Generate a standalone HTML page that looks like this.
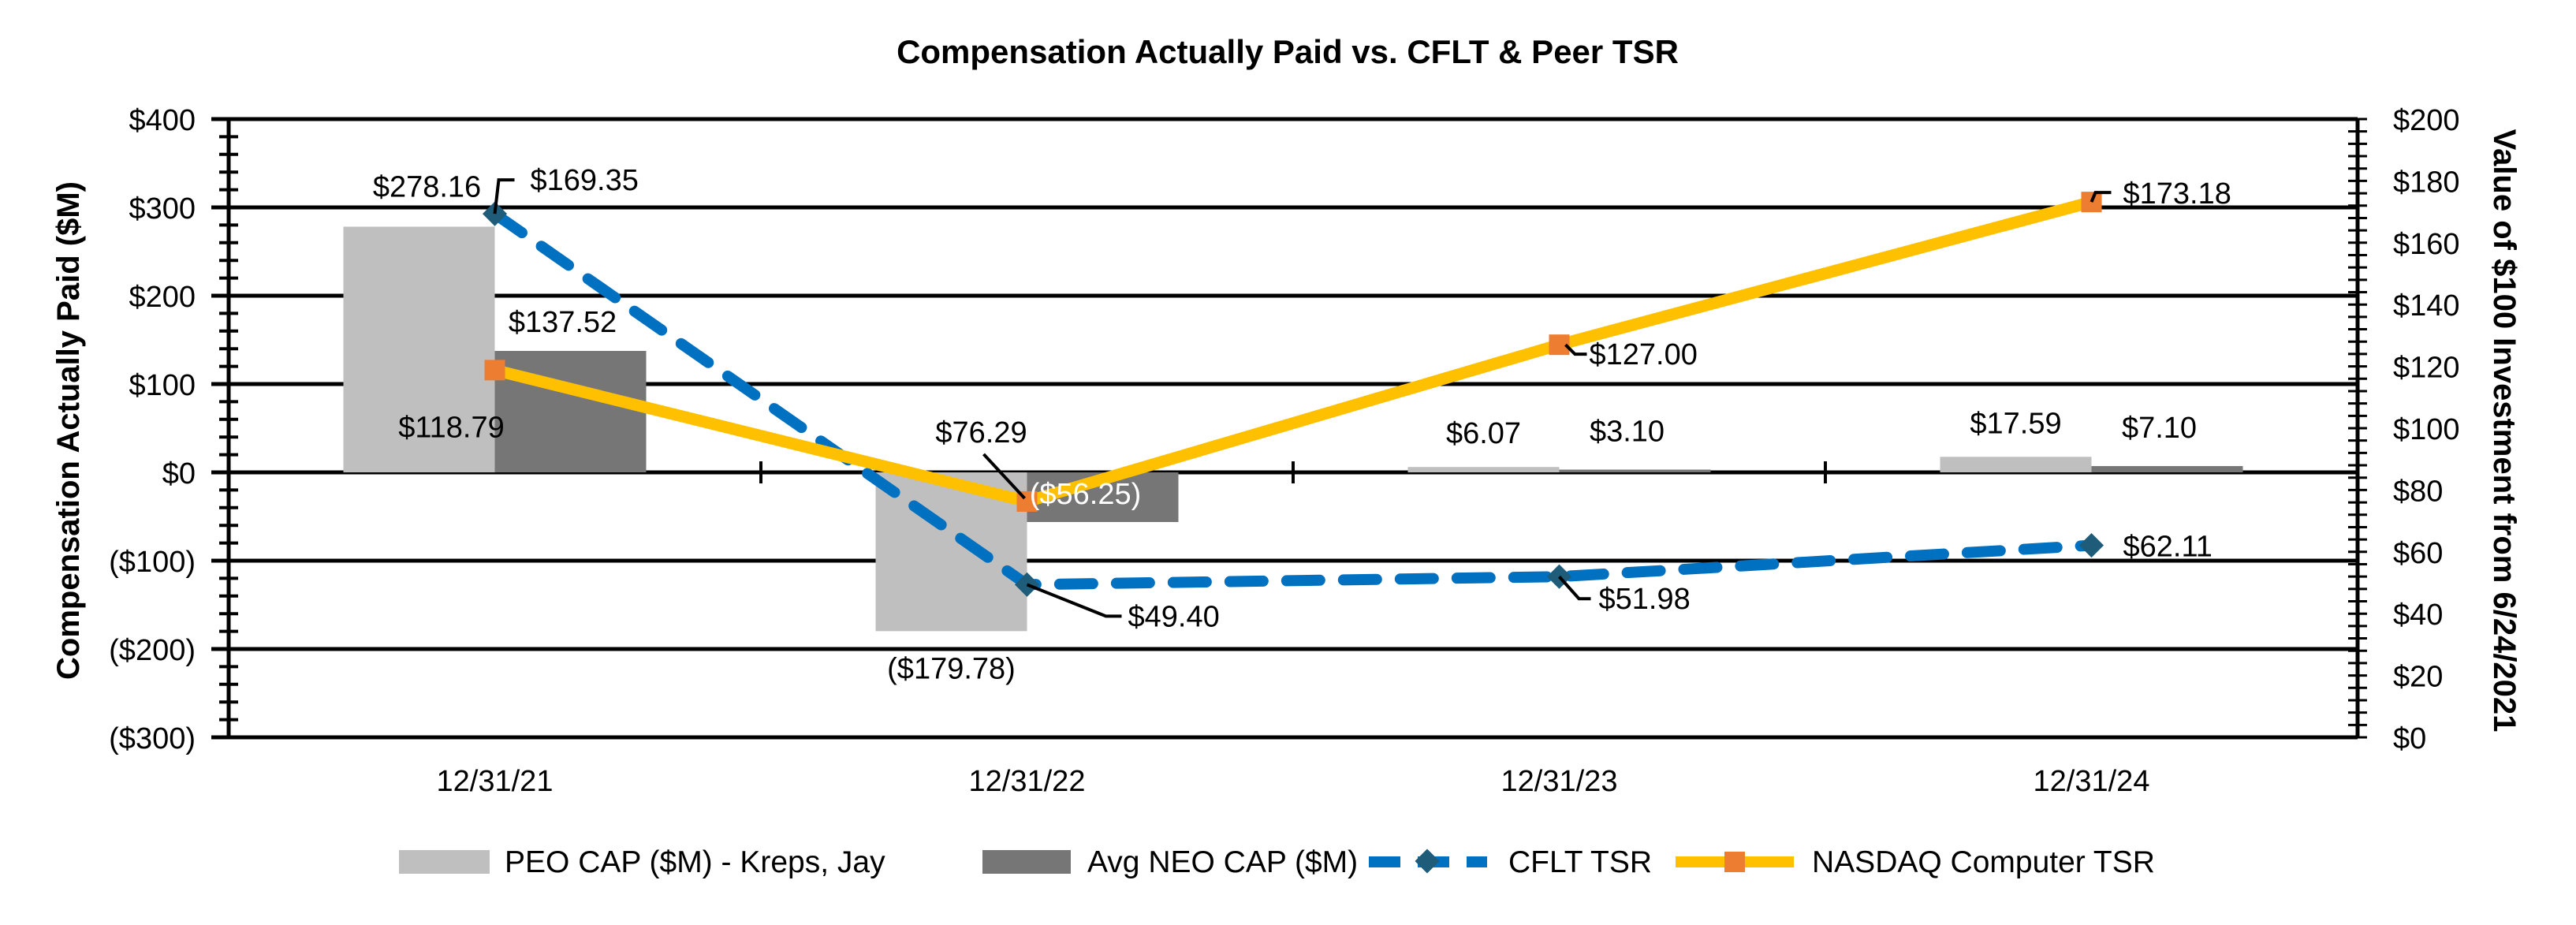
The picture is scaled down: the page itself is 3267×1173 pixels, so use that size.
<!DOCTYPE html>
<html><head><meta charset="utf-8"><style>
html,body{margin:0;padding:0;background:#fff;}
svg{display:block;font-family:"Liberation Sans",sans-serif;}
</style></head><body>
<svg id="chart" width="3267" height="1173" viewBox="0 0 3267 1173" xmlns="http://www.w3.org/2000/svg">
<text x="1633" y="80" font-size="42" font-weight="bold" text-anchor="middle">Compensation Actually Paid vs. CFLT &amp; Peer TSR</text>
<g id="grid"></g><g id="bars"></g><g id="axes"></g><g id="lines"></g><g id="labels"></g>
<text transform="translate(100,546) rotate(-90)" font-size="40" font-weight="bold" text-anchor="middle">Compensation Actually Paid ($M)</text>
<text transform="translate(3163,546) rotate(90)" font-size="40" font-weight="bold" text-anchor="middle">Value of $100 Investment from 6/24/2021</text>
<g font-size="39">
 <g><rect x="506" y="1078" width="115" height="30" fill="#bfbfbf"/><text x="640" y="1106">PEO CAP ($M) - Kreps, Jay</text></g>
 <g><rect x="1246" y="1078" width="112" height="30" fill="#767676"/><text x="1379" y="1106">Avg NEO CAP ($M)</text></g>
 <g><line x1="1736" y1="1093" x2="1886" y2="1093" stroke="#0070c0" stroke-width="14" stroke-dasharray="40,22"/><rect x="1799" y="1081" width="22" height="22" fill="#1f5c7a" transform="rotate(45 1810 1092)"/><text x="1913" y="1106">CFLT TSR</text></g>
 <g><line x1="2125" y1="1093" x2="2275" y2="1093" stroke="#ffc000" stroke-width="14"/><rect x="2187" y="1080" width="26" height="26" fill="#ed7d31"/><text x="2298" y="1106">NASDAQ Computer TSR</text></g>
</g>
</svg>
<script>
const categories = ["12/31/21","12/31/22","12/31/23","12/31/24"];
const peoCap = [278.16,-179.78,6.07,17.59];
const neoCap = [137.52,-56.25,3.10,7.10];
const cfltTsr = [169.35,49.40,51.98,62.11];
const nasdaqTsr = [118.79,76.29,127.00,173.18];
const leftTicks = [400,300,200,100,0,-100,-200,-300];
const leftTickLabels = ["$400","$300","$200","$100","$0","($100)","($200)","($300)"];
const rightTicks = [200,180,160,140,120,100,80,60,40,20,0];
const peoLabels = ["$278.16","($179.78)","$6.07","$17.59"];
const neoLabels = ["$137.52","($56.25)","$3.10","$7.10"];
const cfltLabels = ["$169.35","$49.40","$51.98","$62.11"];
const nasdaqLabels = ["$118.79","$76.29","$127.00","$173.18"];

const NS="http://www.w3.org/2000/svg";
const L=290,R=2990,T=151,B=935;
const bw=(R-L)/categories.length;
const yL=v=>T+(400-v)/700*(B-T);
const yR=v=>B-v/200*(B-T);
const xc=i=>L+bw*(i+0.5);
function mk(tag,attrs,parent,text){const e=document.createElementNS(NS,tag);for(const k in attrs)e.setAttribute(k,attrs[k]);if(text!==undefined)e.textContent=text;document.getElementById(parent).appendChild(e);return e;}

leftTicks.forEach((v,i)=>{
  const g=mk('line',{x1:L-22,x2:R,y1:yL(v),y2:yL(v),stroke:'#000','stroke-width':5},'grid');
  
  
  const t=mk('text',{x:248,y:yL(v)+14,'font-size':38,'text-anchor':'end'},'axes',leftTickLabels[i]);
  
  
});
rightTicks.forEach(v=>{
  const t=mk('text',{x:3035,y:yR(v)+14,'font-size':38},'axes','$'+v);
  
  
});
mk('line',{x1:L,x2:L,y1:T,y2:B,stroke:'#000','stroke-width':5},'axes');
mk('line',{x1:R,x2:R,y1:T,y2:B,stroke:'#000','stroke-width':5},'axes');
for(let v=-300;v<=400;v+=20){mk('line',{x1:L-12,x2:L+12,y1:yL(v),y2:yL(v),stroke:'#000','stroke-width':4},'axes');}
for(let v=0;v<=200;v+=4){mk('line',{x1:R-12,x2:R+12,y1:yR(v),y2:yR(v),stroke:'#000','stroke-width':3},'axes');}
for(let i=1;i<categories.length;i++){mk('line',{x1:L+bw*i,x2:L+bw*i,y1:yL(0)-14,y2:yL(0)+14,stroke:'#000','stroke-width':4},'axes');}
categories.forEach((c,i)=>{
  const t=mk('text',{x:xc(i),y:1003,'font-size':38,'text-anchor':'middle'},'axes',c);
  
  
});
const barW=192;
categories.forEach((c,i)=>{
  const y0=yL(0);
  const p=mk('rect',{x:xc(i)-barW,width:barW,y:Math.min(y0,yL(peoCap[i])),height:Math.abs(yL(peoCap[i])-y0),fill:'#bfbfbf'},'bars');
  
  
  const n=mk('rect',{x:xc(i),width:barW,y:Math.min(y0,yL(neoCap[i])),height:Math.abs(yL(neoCap[i])-y0),fill:'#767676'},'bars');
  
  
});
const cp=cfltTsr.map((v,i)=>xc(i)+','+yR(v)).join(' ');
const cl=mk('polyline',{points:cp,fill:'none',stroke:'#0070c0','stroke-width':14,'stroke-dasharray':'42,30','stroke-linecap':'round'},'lines');


const np=nasdaqTsr.map((v,i)=>xc(i)+','+yR(v)).join(' ');
const nl=mk('polyline',{points:np,fill:'none',stroke:'#ffc000','stroke-width':15},'lines');


cfltTsr.forEach((v,i)=>{
  const m=mk('rect',{x:xc(i)-11,y:yR(v)-11,width:22,height:22,fill:'#1f5c7a',transform:`rotate(45 ${xc(i)} ${yR(v)})`},'lines');
  
  
});
nasdaqTsr.forEach((v,i)=>{
  const m=mk('rect',{x:xc(i)-13,y:yR(v)-13,width:26,height:26,fill:'#ed7d31'},'lines');
  
  
});
function lab(x,y,txt,anchor,name,fill){const t=mk('text',{x:x,y:y,'font-size':38,'text-anchor':anchor,fill:fill||'#000'},'labels',txt);}
function lead(pts){mk('polyline',{points:pts,fill:'none',stroke:'#000','stroke-width':4},'labels');}
lab(xc(0)-barW/2+10,yL(peoCap[0])-38,peoLabels[0],'middle','peo-label');
lab(xc(1)-barW/2,yL(peoCap[1])+60,peoLabels[1],'middle','peo-label');
lab(xc(2)-barW/2,yL(peoCap[2])-30,peoLabels[2],'middle','peo-label');
lab(xc(3)-barW/2,yL(peoCap[3])-30,peoLabels[3],'middle','peo-label');
lab(xc(0)+barW/2-10,yL(neoCap[0])-24,neoLabels[0],'middle','neo-label');
lab(xc(1)+barW/2-22,yL(neoCap[1])-23,neoLabels[1],'middle','neo-label','#fff');
lab(xc(2)+barW/2-10,yL(neoCap[2])-36,neoLabels[2],'middle','neo-label');
lab(xc(3)+barW/2-10,yL(neoCap[3])-36,neoLabels[3],'middle','neo-label');
lead(`${xc(0)},${yR(cfltTsr[0])} ${xc(0)+5},${yR(cfltTsr[0])-43} ${xc(0)+25},${yR(cfltTsr[0])-43}`);
lab(xc(0)+45,yR(cfltTsr[0])-30,cfltLabels[0],'start','cflt-label');
lead(`${xc(1)},${yR(cfltTsr[1])} ${xc(1)+100},${yR(cfltTsr[1])+40} ${xc(1)+120},${yR(cfltTsr[1])+40}`);
lab(xc(1)+128,yR(cfltTsr[1])+53,cfltLabels[1],'start','cflt-label');
lead(`${xc(2)},${yR(cfltTsr[2])} ${xc(2)+25},${yR(cfltTsr[2])+28} ${xc(2)+40},${yR(cfltTsr[2])+28}`);
lab(xc(2)+50,yR(cfltTsr[2])+41,cfltLabels[2],'start','cflt-label');
lab(xc(3)+40,yR(cfltTsr[3])+14,cfltLabels[3],'start','cflt-label');
lab(xc(0)-55,yR(nasdaqTsr[0])+85,nasdaqLabels[0],'middle','nasdaq-label');
lead(`${xc(1)-3},${yR(nasdaqTsr[1])-4} ${xc(1)-55},${yR(nasdaqTsr[1])-60}`);
lab(xc(1)-58,yR(nasdaqTsr[1])-75,nasdaqLabels[1],'middle','nasdaq-label');
lead(`${xc(2)+8},${yR(nasdaqTsr[2])} ${xc(2)+20},${yR(nasdaqTsr[2])+12} ${xc(2)+35},${yR(nasdaqTsr[2])+12}`);
lab(xc(2)+38,yR(nasdaqTsr[2])+25,nasdaqLabels[2],'start','nasdaq-label');
lead(`${xc(3)},${yR(nasdaqTsr[3])} ${xc(3)+5},${yR(nasdaqTsr[3])-12} ${xc(3)+25},${yR(nasdaqTsr[3])-12}`);
lab(xc(3)+40,yR(nasdaqTsr[3])+2,nasdaqLabels[3],'start','nasdaq-label');
</script>
</body></html>
